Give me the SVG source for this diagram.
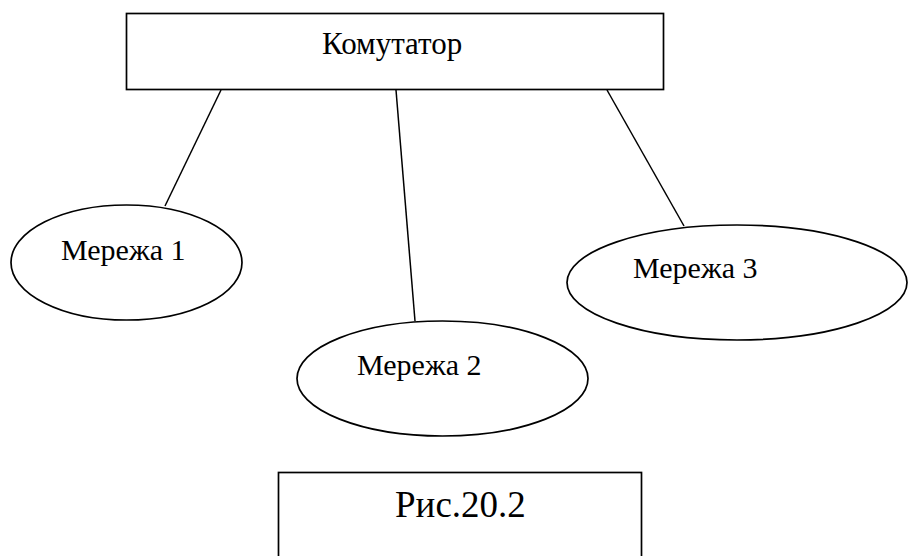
<svg xmlns="http://www.w3.org/2000/svg" width="908" height="556" viewBox="0 0 908 556">
  <style>
    .shape { fill: #ffffff; stroke: #000000; stroke-width: 1.7; }
    .link { stroke: #000000; stroke-width: 1.5; fill: none; }
    .label { font-family: "Liberation Serif", "Times New Roman", serif; font-size: 30px; fill: #000000; }
    .title { font-size: 31px; }
    .caption { font-size: 37px; }
  </style>
  <rect width="908" height="556" fill="#ffffff"/>

  <!-- links from the switch to each network -->
  <g id="connectors">
    <line class="link" x1="221" y1="90" x2="165" y2="206"/>
    <line class="link" x1="396" y1="90" x2="415" y2="321"/>
    <line class="link" x1="607" y1="90" x2="684" y2="226"/>
  </g>

  <g id="switch">
    <rect class="shape" x="126.5" y="13.5" width="537" height="76"/>
    <text class="label title" x="322" y="54">Комутатор</text>
  </g>

  <g id="net1">
    <ellipse class="shape" cx="126.5" cy="262.5" rx="115.5" ry="57.5"/>
    <text class="label" x="61" y="260">Мережа 1</text>
  </g>

  <g id="net2">
    <ellipse class="shape" cx="442.5" cy="378.5" rx="145.5" ry="57.5"/>
    <text class="label" x="357" y="375">Мережа 2</text>
  </g>

  <g id="net3">
    <ellipse class="shape" cx="737" cy="282.5" rx="170" ry="57.5"/>
    <text class="label" x="633" y="278">Мережа 3</text>
  </g>

  <g id="caption">
    <rect class="shape" x="278.5" y="472.5" width="363" height="100"/>
    <text class="label caption" x="395" y="517">Рис.20.2</text>
  </g>
</svg>
